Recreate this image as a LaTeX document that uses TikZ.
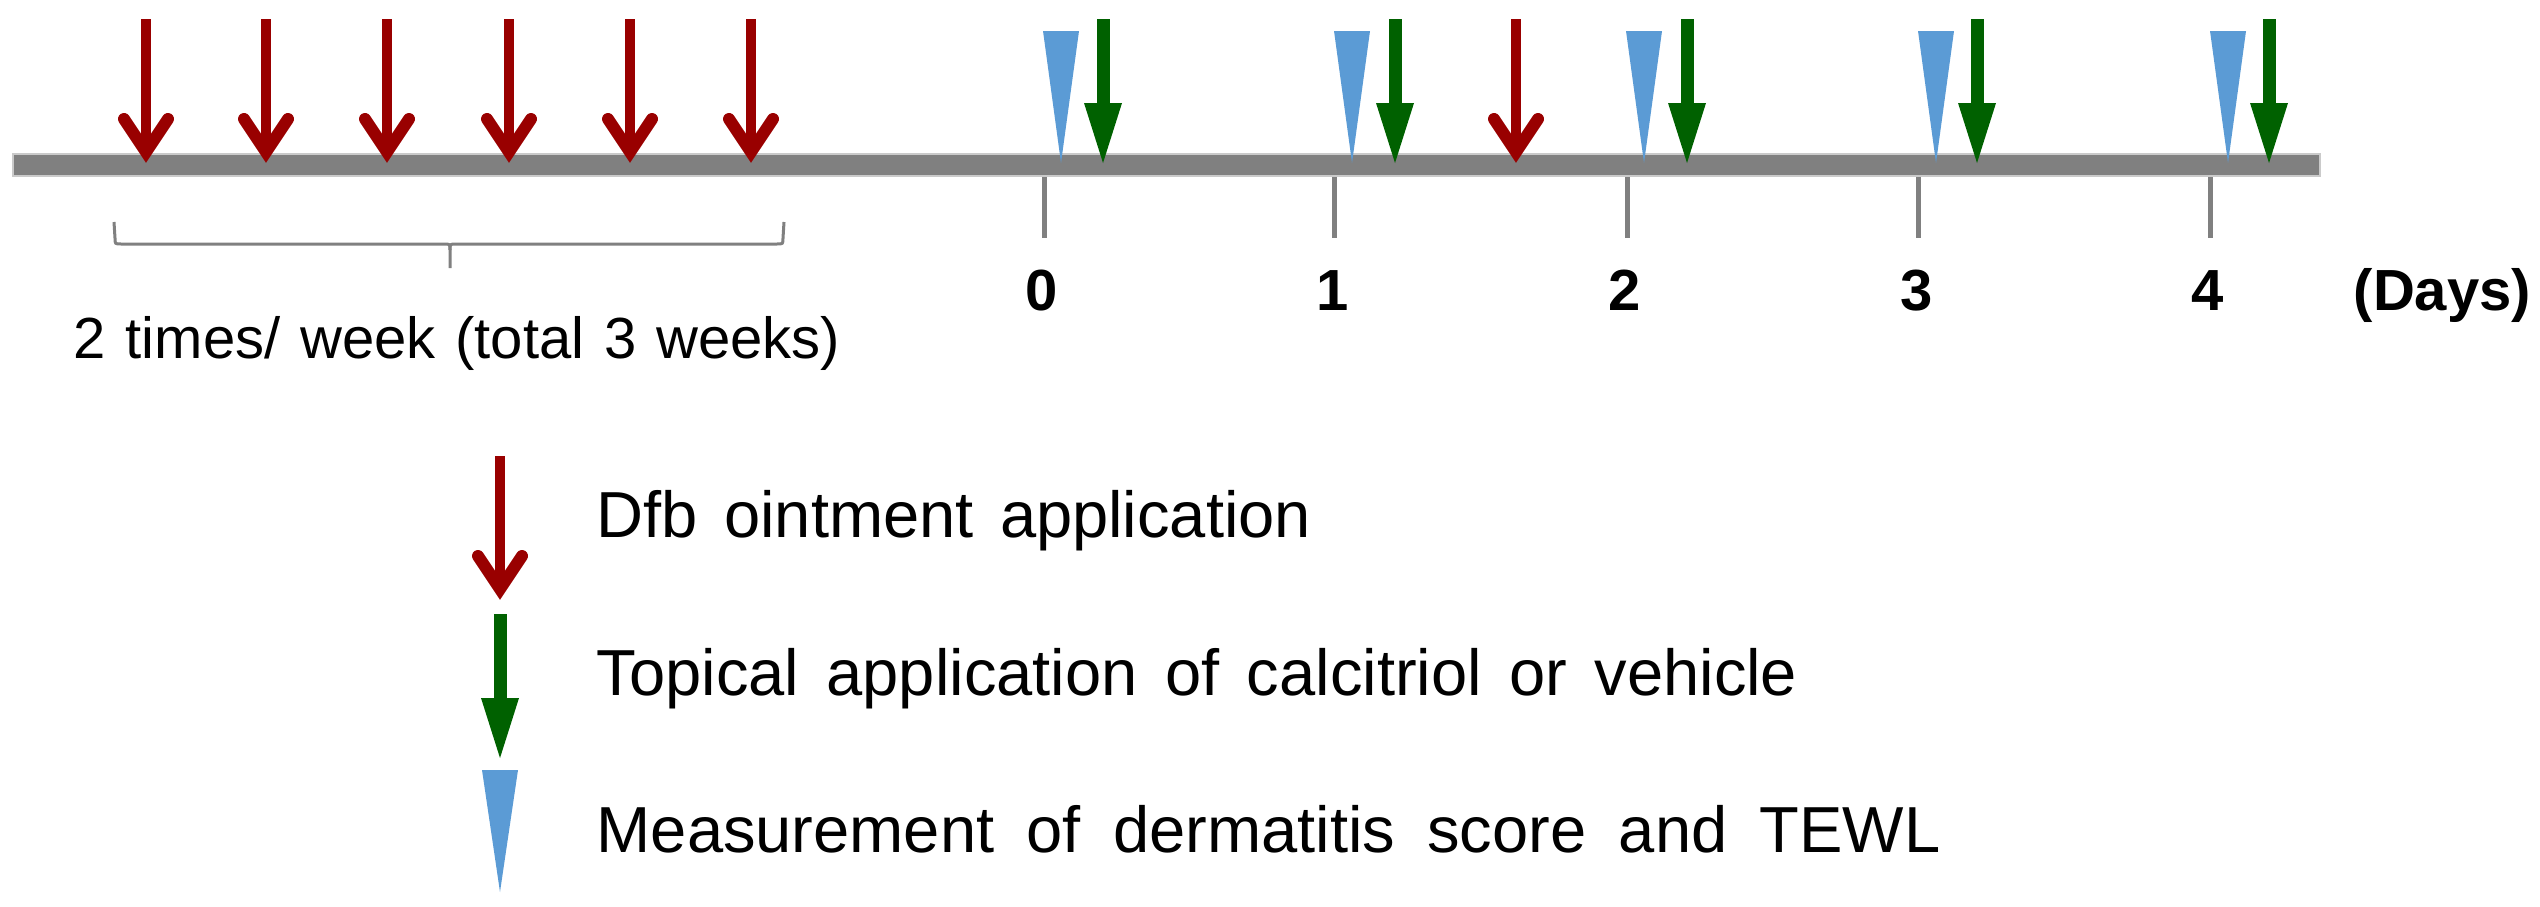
\documentclass[tikz,border=0pt]{standalone}
\usepackage{fontspec}
\setmainfont{Liberation Sans}
\definecolor{dfbred}{HTML}{990000}
\definecolor{calgreen}{HTML}{006100}
\definecolor{measblue}{HTML}{5B9BD5}
\definecolor{bargray}{HTML}{808080}
\definecolor{baredge}{HTML}{CACACA}
\tikzset{
  dfbstem/.style={dfbred, line width=0.1cm},
  dfbhead/.style={dfbred, line width=0.12cm, line cap=round, line join=miter, miter limit=20},
  calstem/.style={calgreen, line width=0.13cm},
  calhead/.style={fill=calgreen, draw=none},
  measmarkstyle/.style={fill=measblue, draw=none},
  tickline/.style={bargray, line width=0.05cm},
  bracestyle/.style={bargray, line width=0.03cm},
  daylabel/.style={font=\fontsize{16.5}{18}\selectfont\bfseries, inner sep=0pt, anchor=base},
  legendtext/.style={font=\fontsize{18.5}{21}\selectfont, inner sep=0pt, anchor=base west},
}
% x = position of arrow, #2 = top of arrow; tip is 144 px below
\newcommand{\dfbarrow}[2]{%
  \draw[dfbstem] (#1,#2) -- (#1,#2+128);
  \draw[dfbhead] (#1-22,#2+100) -- (#1,#2+133) -- (#1+22,#2+100);
}
\newcommand{\calarrow}[2]{%
  \draw[calstem] (#1,#2) -- (#1,#2+90);
  \fill[calhead] (#1-19,#2+84) -- (#1+19,#2+84) -- (#1,#2+144) -- cycle;
}
% tip x, top y, tip y
\newcommand{\measmark}[3]{%
  \fill[measmarkstyle] (#1-18,#2) -- (#1+18,#2) -- (#1,#3) -- cycle;
}
\begin{document}
\begin{tikzpicture}[x=0.01cm, y=-0.01cm]
\useasboundingbox (0,0) rectangle (2540,906);

% timeline bar
\draw[baredge, line width=0.025cm, fill=bargray] (13,154) rectangle (2320,176);

% ticks
\foreach \t in {1044,1334,1627,1918,2210} {
  \draw[tickline] (\t,177) -- (\t,238);
}

% day labels
\node[daylabel] (d0) at (1042,310) {0};
\node[daylabel] (d1) at (1333,310) {1};
\node[daylabel] (d2) at (1625,310) {2};
\node[daylabel] (d3) at (1917,310) {3};
\node[daylabel] (d4) at (2208,310) {4};
\node[daylabel, anchor=base west] (days) at (2353,310) {(Days)};

% sensitisation arrows
\foreach \x in {146,266,387,509,630,751} {
  \dfbarrow{\x}{19}
}
\dfbarrow{1516}{19}

% measurement marks and treatment arrows
\foreach \x in {1061,1352,1644,1936,2228} {
  \measmark{\x}{31}{163}
}
\foreach \x in {1103,1395,1687,1977,2269} {
  \calarrow{\x}{19}
}

% brace
\draw[bracestyle] (114,222) -- (115,238) .. controls (115,244) .. (121,244) -- (444,244)
  .. controls (450,244) .. (450,250) -- (450,268);
\draw[bracestyle] (450,250) .. controls (450,244) .. (456,244) -- (777,244)
  .. controls (783,244) .. (783,238) -- (784,222);
\node[font=\fontsize{16.5}{19}\selectfont, inner sep=0pt, anchor=base west] (freq) at (73,358)
  {\makebox[7.66cm][s]{2 times/ week (total 3 weeks)}};

% legend
\dfbarrow{500}{456}
\calarrow{500}{614}
\measmark{500}{770}{892}
\node[legendtext] (l1) at (596,537) {\makebox[7.14cm][s]{Dfb ointment application}};
\node[legendtext] (l2) at (596,695) {\makebox[12.0cm][s]{Topical application of calcitriol or vehicle}};
\node[legendtext] (l3) at (596,852) {\makebox[13.43cm][s]{Measurement of dermatitis score and TEWL}};
\end{tikzpicture}
\end{document}
